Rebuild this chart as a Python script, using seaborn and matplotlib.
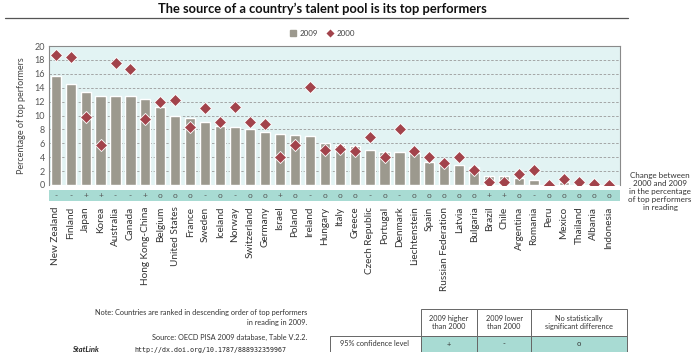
import matplotlib
matplotlib.use("Agg")
import matplotlib.pyplot as plt
from matplotlib.patches import Rectangle
from matplotlib.lines import Line2D
import seaborn as sns

countries = ["New Zealand", "Finland", "Japan", "Korea", "Australia", "Canada",
             "Hong Kong-China", "Belgium", "United States", "France", "Sweden",
             "Iceland", "Norway", "Switzerland", "Germany", "Israel", "Poland",
             "Ireland", "Hungary", "Italy", "Greece", "Czech Republic", "Portugal",
             "Denmark", "Liechtenstein", "Spain", "Russian Federation", "Latvia",
             "Bulgaria", "Brazil", "Chile", "Argentina", "Romania", "Peru",
             "Mexico", "Thailand", "Albania", "Indonesia"]
top_2009 = [15.7, 14.5, 13.4, 12.8, 12.8, 12.8, 12.4, 11.2, 9.9, 9.6, 9.0, 8.5,
            8.4, 8.1, 7.6, 7.4, 7.2, 7.0, 6.0, 5.8, 5.6, 5.1, 4.8, 4.7, 4.6, 3.3,
            3.2, 2.9, 2.6, 1.3, 1.3, 1.0, 0.7, 0.1, 0.4, 0.3, 0.1, 0.0]
top_2000 = [18.7, 18.4, 9.8, 5.7, 17.6, 16.7, 9.5, 11.9, 12.2, 8.4, 11.1, 9.1,
            11.2, 9.1, 8.8, 4.1, 5.8, 14.1, 5.0, 5.2, 4.9, 6.9, 4.1, 8.0, 4.9, 4.1,
            3.1, 4.1, 2.1, 0.5, 0.5, 1.6, 2.1, 0.0, 0.9, 0.5, 0.1, 0.0]
change = ["-", "-", "+", "+", "-", "-", "+", "o", "o", "o", "-", "o", "-", "o",
          "o", "+", "o", "-", "o", "o", "o", "-", "o", "-", "o", "o", "o", "o",
          "o", "+", "+", "o", "-", "o", "o", "o", "o", "o"]

bar_col = "#9c998e"
dia_col = "#a2434b"
band_col = "#a8dbd3"
bg_col = "#e2f3f3"
txt = "#333333"

sns.set_style("white")
plt.rcParams["font.family"] = ["Lato", "DejaVu Sans"]

W, H = 700, 353
fig = plt.figure(figsize=(7, 3.53), dpi=100)

def box(x0, y0, x1, y1):
    # pixel box (top-left origin) -> figure fraction rect
    return [x0 / W, 1 - y1 / H, (x1 - x0) / W, (y1 - y0) / H]

ax = fig.add_axes(box(49, 46, 620, 185))
n = len(countries)
sns.barplot(x=list(range(n)), y=top_2009, color=bar_col, width=0.68,
            saturation=1, ax=ax, native_scale=True, zorder=2)
ax.set_facecolor(bg_col)
ax.scatter(range(n), top_2000, marker="D", s=38, color=dia_col,
           edgecolor="white", linewidth=0.6, zorder=3)
ax.set_xlim(-0.45, n - 0.25)
ax.set_ylim(0, 20)
ax.set_yticks(range(0, 21, 2))
ax.tick_params(axis="y", labelsize=6.5, colors="#555555", length=0, pad=3)
ax.set_xticks([])
ax.set_xlabel("")
ax.set_ylabel("Percentage of top performers", fontsize=6.5, color="#444444", labelpad=6)
for y in range(2, 20, 2):
    ax.axhline(y, color="#9a9a9a", lw=0.6, ls=(0, (3, 2)), zorder=1)
for s in ["top", "right", "left"]:
    ax.spines[s].set_color("#8a8a8a")
    ax.spines[s].set_linewidth(0.8)
ax.spines["bottom"].set_visible(False)

# change band with country labels
band = fig.add_axes(box(49, 190, 620, 201))
band.set_facecolor(band_col)
band.set_xlim(ax.get_xlim())
band.set_ylim(0, 1)
for i, c in enumerate(change):
    band.text(i, 0.5, c, ha="center", va="center", fontsize=6, color="#555555")
for s in band.spines.values():
    s.set_visible(False)
band.set_yticks([])
band.set_xticks(range(n))
band.set_xticklabels(countries, rotation=90, fontsize=7.2, color=txt)
band.tick_params(axis="x", length=0, pad=4)

fig.text(660 / W, 1 - 172 / H,
         "Change between\n2000 and 2009\nin the percentage\nof top performers\nin reading",
         ha="center", va="top", fontsize=5.8, color=txt, linespacing=1.15)

# title and rule
fig.text(322 / W, 1 - 9 / H, "The source of a country\u2019s talent pool is its top performers",
         ha="center", va="center", fontsize=9.3, fontweight="bold", color="#111111")
fig.add_artist(Line2D([5 / W, 628 / W], [1 - 18 / H, 1 - 18 / H],
                      color="#555555", lw=0.9))

# legend
handles = [Line2D([], [], marker="s", ls="none", color=bar_col, markersize=4.5),
           Line2D([], [], marker="D", ls="none", color=dia_col, markeredgecolor="white",
                  markersize=5.5)]
fig.legend(handles, ["2009", "2000"], loc="center", bbox_to_anchor=(322 / W, 1 - 33 / H),
           ncol=2, frameon=False, fontsize=5.8, handletextpad=0.3, columnspacing=1.0,
           handlelength=1.0, labelcolor="#444444")

# notes
fig.text(307 / W, 1 - 312 / H, "Note: Countries are ranked in descending order of top performers",
         ha="right", va="center", fontsize=5.3, color=txt)
fig.text(307 / W, 1 - 322 / H, "in reading in 2009.", ha="right", va="center",
         fontsize=5.3, color=txt)
fig.text(307 / W, 1 - 337 / H, "Source: OECD PISA 2009 database, Table V.2.2.",
         ha="right", va="center", fontsize=5.3, color=txt)
fig.text(72 / W, 1 - 350 / H, "StatLink", ha="left", va="center", fontsize=5.5,
         fontweight="bold", style="italic", color="#222222")
fig.text(134 / W, 1 - 350 / H, "http://dx.doi.org/10.1787/888932359967", ha="left",
         va="center", fontsize=4.8, family="DejaVu Sans Mono", color="#222222")

# confidence table
tab = fig.add_axes(box(330, 309, 628, 352))
tab.set_xlim(330, 628)
tab.set_ylim(352, 309)
tab.axis("off")
cols = [(421, 477, "2009 higher\nthan 2000", "+"),
        (477, 531, "2009 lower\nthan 2000", "-"),
        (531, 627, "No statistically\nsignificant difference", "o")]
tab.add_patch(Rectangle((330, 336), 91, 16, facecolor="white", edgecolor="#666666", lw=0.7))
tab.text(375, 344, "95% confidence level", ha="center", va="center", fontsize=5.3, color=txt)
for x0, x1, head, sym in cols:
    tab.add_patch(Rectangle((x0, 309), x1 - x0, 27, facecolor="white",
                            edgecolor="#666666", lw=0.7))
    tab.add_patch(Rectangle((x0, 336), x1 - x0, 16, facecolor=band_col,
                            edgecolor="#666666", lw=0.7))
    tab.text((x0 + x1) / 2, 322.5, head, ha="center", va="center", fontsize=5.3,
             color=txt, linespacing=1.1)
    tab.text((x0 + x1) / 2, 344, sym, ha="center", va="center", fontsize=5.5, color=txt)

fig.savefig("out.png", dpi=100)
